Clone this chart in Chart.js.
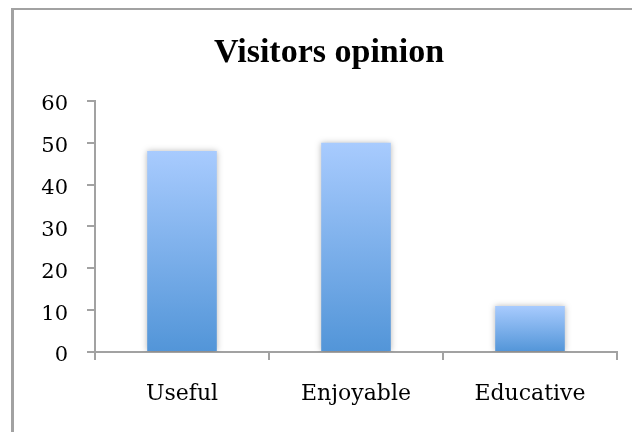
<!DOCTYPE html>
<html>
<head>
<meta charset="utf-8">
<title>Visitors opinion</title>
<script src="https://cdn.jsdelivr.net/npm/chart.js@4/dist/chart.umd.min.js"></script>
<style>
  html, body { margin: 0; padding: 0; background: #fff; }
  canvas { display: block; }
</style>
</head>
<body>
<canvas id="opinion" width="632" height="432"></canvas>
<script>
const categories = ['Useful', 'Enjoyable', 'Educative'];
const opinionCounts = [48, 50, 11];
const yMin = 0, yMax = 60, yStep = 10;

const axisGrey = '#a2a2a2';

// gray frame around the whole chart (only left and top edges fall inside the canvas)
const frame = {
  id: 'frame',
  beforeDraw(chart) {
    const c = chart.ctx;
    c.save();
    c.fillStyle = axisGrey;
    c.fillRect(11, 8, 3, chart.height - 8);
    c.fillRect(11, 8, chart.width - 11, 2);
    c.restore();
  }
};

// soft shadow at the sides of the bars
const barShadow = {
  id: 'barShadow',
  beforeDatasetsDraw(chart) {
    const c = chart.ctx;
    c.save();
    c.shadowColor = 'rgba(0,0,0,0.28)';
    c.shadowBlur = 6;
    c.shadowOffsetX = 0;
    c.shadowOffsetY = 0;
  },
  afterDatasetsDraw(chart) {
    chart.ctx.restore();
  }
};

function barGradient(context) {
  const chart = context.chart;
  if (!chart.chartArea || context.dataIndex === undefined) return '#7fb0ec';
  const y = chart.scales.y;
  const top = y.getPixelForValue(context.raw);
  const base = y.getPixelForValue(0);
  const g = chart.ctx.createLinearGradient(0, top, 0, base);
  g.addColorStop(0, '#a8cbfe');
  g.addColorStop(1, '#5295d8');
  return g;
}

new Chart(document.getElementById('opinion'), {
  type: 'bar',
  data: {
    labels: categories,
    datasets: [{
      data: opinionCounts,
      backgroundColor: barGradient,
      borderWidth: 0,
      categoryPercentage: 1,
      barPercentage: 0.4
    }]
  },
  options: {
    responsive: false,
    animation: false,
    // left padding moves the centred title right; y scale width makes up the rest
    layout: { padding: { left: 41, right: 15, top: 0, bottom: 0 } },
    plugins: {
      legend: { display: false },
      tooltip: { enabled: false },
      title: {
        display: true,
        text: 'Visitors opinion',
        color: '#000',
        font: { family: '"Liberation Serif", serif', size: 34, weight: 'bold' },
        padding: { top: 33, bottom: 27 }
      }
    },
    scales: {
      x: {
        afterFit(scale) { scale.height = 80; },
        grid: {
          offset: true,
          drawOnChartArea: false,
          drawTicks: true,
          tickLength: 8,
          color: axisGrey,
          lineWidth: 2
        },
        border: { color: axisGrey, width: 2 },
        ticks: {
          color: '#000',
          padding: 21,
          font: { family: '"DejaVu Serif", serif', size: 22 }
        }
      },
      y: {
        min: yMin,
        max: yMax,
        afterFit(scale) { scale.width = 54; },
        grid: {
          drawOnChartArea: false,
          drawTicks: true,
          tickLength: 8,
          color: axisGrey,
          lineWidth: 2
        },
        border: { color: axisGrey, width: 2 },
        ticks: {
          stepSize: yStep,
          color: '#000',
          padding: 19,
          labelOffset: 4,
          font: { family: '"DejaVu Serif", serif', size: 21 }
        }
      }
    }
  },
  plugins: [frame, barShadow]
});
</script>
</body>
</html>
